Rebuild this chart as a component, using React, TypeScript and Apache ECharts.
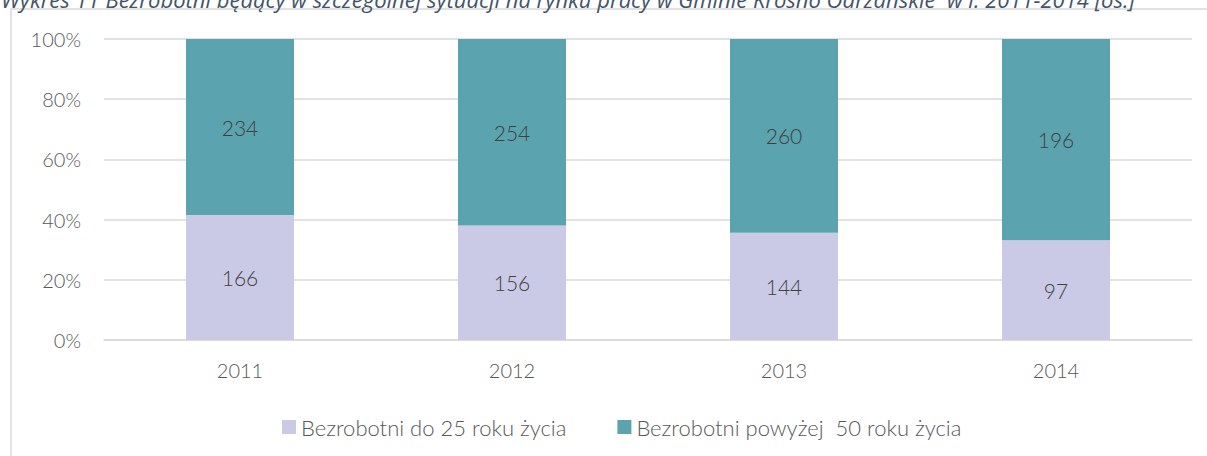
import React, { useEffect, useRef } from "react";
import * as echarts from "echarts";

const categories = ["2011", "2012", "2013", "2014"];
const under25 = [166, 156, 144, 97];
const over50 = [234, 254, 260, 196];
const seriesNames = ["Bezrobotni do 25 roku życia", "Bezrobotni powyżej  50 roku życia"];
const yTicks = [0, 20, 40, 60, 80, 100];
const titleText =
  "Wykres 11 Bezrobotni będący w szczególnej sytuacji na rynku pracy w Gminie Krosno Odrzańskie  w l. 2011-2014 [os.]";

const FONT = "Lato";

export default function App() {
  const ref = useRef<HTMLDivElement>(null);
  useEffect(() => {
    if (!ref.current) return;
    const chart = echarts.init(ref.current, null, { renderer: "svg" });
    const totals = categories.map((_, i) => under25[i] + over50[i]);
    const pctA = under25.map((v, i) => (v / totals[i]) * 100);
    const pctB = over50.map((v, i) => (v / totals[i]) * 100);
    const raw = [under25, over50];
    const labelCfg = (si: number) => ({
      show: true,
      position: "inside" as const,
      color: "#404040",
      fontFamily: FONT,
      fontWeight: 300,
      fontSize: 21,
      formatter: (p: any) => String(raw[si][p.dataIndex]),
    });
    chart.setOption({
      animation: false,
      backgroundColor: "#ffffff",
      textStyle: { fontFamily: FONT },
      graphic: [
        {
          type: "rect",
          shape: { x: 11, y: 9, width: 1300, height: 600 },
          style: { fill: "none", stroke: "#d9d9d9", lineWidth: 1.5 },
          silent: true,
          z: -10,
        },
        {
          type: "text",
          x: 1,
          y: 10,
          style: {
            text: titleText,
            font: 'italic 22px "Open Sans"',
            fill: "#44546A",
            verticalAlign: "bottom",
          },
        },
      ],
      grid: { left: 104, right: 15, top: 39, bottom: 116 },
      legend: {
        left: 277,
        top: 411,
        itemWidth: 14,
        itemHeight: 14,
        itemGap: 51,
        icon: "rect",
        textStyle: { color: "#595959", fontSize: 22, fontWeight: 300, fontFamily: FONT },
        data: seriesNames,
      },
      xAxis: {
        type: "category",
        data: categories,
        axisLine: { show: true, lineStyle: { color: "#d9d9d9", width: 1.5 } },
        axisTick: { show: false },
        axisLabel: { color: "#595959", fontSize: 20, fontWeight: 300, fontFamily: FONT, margin: 20 },
      },
      yAxis: {
        type: "value",
        min: 0,
        max: 100,
        interval: 20,
        axisLine: { show: false },
        axisTick: { show: false },
        splitLine: { lineStyle: { color: "#d9d9d9", width: 1.5 } },
        axisLabel: {
          color: "#595959",
          fontSize: 20,
          fontWeight: 300,
          fontFamily: FONT,
          margin: 23,
          formatter: (v: number) => (yTicks.includes(v) ? v + "%" : ""),
        },
      },
      series: [
        {
          name: seriesNames[0],
          type: "bar",
          stack: "total",
          barWidth: 108,
          data: pctA,
          itemStyle: { color: "#CACAE6" },
          label: labelCfg(0),
        },
        {
          name: seriesNames[1],
          type: "bar",
          stack: "total",
          barWidth: 108,
          data: pctB,
          itemStyle: { color: "#5BA3AF" },
          label: labelCfg(1),
        },
      ],
    });
    return () => chart.dispose();
  }, []);
  return (
    <div
      ref={ref}
      style={{ position: "fixed", left: 0, top: 0, width: 1207, height: 456 }}
    />
  );
}
